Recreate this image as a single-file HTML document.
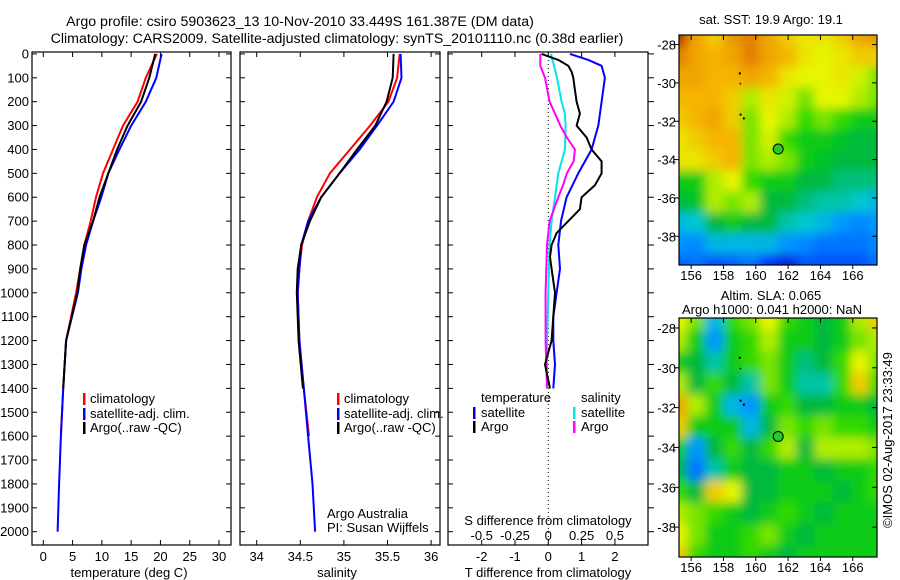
<!DOCTYPE html>
<html><head><meta charset="utf-8">
<style>
body{margin:0;background:#fff;}
svg{display:block;font-family:"Liberation Sans",sans-serif;}
</style></head>
<body>
<svg id="fig" width="900" height="580" viewBox="0 0 900 580" xmlns="http://www.w3.org/2000/svg">
<defs>
<filter id="blur" x="-5%" y="-5%" width="110%" height="110%"><feGaussianBlur stdDeviation="5"/></filter>
<clipPath id="clipA"><rect x="679" y="35" width="198" height="230"/></clipPath>
<clipPath id="clipB"><rect x="679" y="318" width="198" height="239"/></clipPath>
</defs>
<text x="300" y="26" font-size="14.2" text-anchor="middle">Argo profile: csiro 5903623_13 10-Nov-2010 33.449S 161.387E (DM data)</text>
<text x="337" y="43" font-size="14.2" text-anchor="middle">Climatology: CARS2009. Satellite-adjusted climatology: synTS_20101110.nc (0.38d earlier)</text>
<g id="plots"></g>
</svg>
<script>
// ---------- data ----------
const depthsUpper = [0,100,200,300,400,500,600,700,800,900,1000];
const depthsDeep = [1200,1400,1600,1800,2000];
const tempClim = [19.4,17.5,16.1,13.6,11.9,10.2,9.0,8.1,7.0,6.3,5.6,3.9,3.4,3.0];
const tempSat  = [20.2,19.3,17.5,15.0,13.0,11.1,9.9,8.5,7.3,6.5,5.9,3.9,3.4,3.0,2.7,2.45];
const tempArgo = [19.1,18.1,16.7,14.4,12.6,11.1,9.6,8.5,7.0,6.3,5.8,3.9,3.4];
const salClim = [35.64,35.61,35.51,35.30,35.07,34.84,34.69,34.59,34.52,34.49,34.47,34.49,34.54,34.60];
const salSat  = [35.65,35.66,35.57,35.38,35.18,34.95,34.74,34.59,34.51,34.49,34.47,34.49,34.54,34.59,34.64,34.67];
const salArgo = [35.57,35.56,35.49,35.36,35.15,34.95,34.74,34.61,34.51,34.47,34.46,34.48,34.53];
const diffDepthsT = [0,25,50,100,200,300,400,500,600,700,800,900,1000,1100,1200,1300,1400];
const dTSat = [0.65,1.2,1.6,1.7,1.6,1.5,1.3,0.9,0.55,0.38,0.3,0.35,0.25,0.15,0.15,0.2,0.15];
const diffDepthsTA = [0,25,50,75,100,150,200,250,300,350,400,450,500,550,600,650,700,750,800,850,900,1000,1100,1200,1300,1400];
const dTArgo = [-0.2,0.3,0.6,0.7,0.75,0.8,0.85,0.95,0.85,1.15,1.3,1.6,1.6,1.4,1.0,0.95,0.6,0.25,0.1,0.05,0.1,0.2,0.15,0.1,-0.1,0.05];
const diffDepthsS = [0,100,200,250,300,400,500,600,700,800,1000,1200,1400];
const dSSat = [0.02,0.065,0.1,0.125,0.13,0.125,0.075,0.05,0.025,0.01,0,-0.01,-0.01];
const diffDepthsSA = [0,50,100,200,250,300,350,400,450,500,550,600,700,800,1000,1200,1400];
const dSArgo = [-0.06,-0.06,-0.025,0.01,0.05,0.09,0.14,0.2,0.19,0.14,0.11,0.075,0.01,-0.01,-0.02,-0.02,-0.01];
const depthTicks = [0,100,200,300,400,500,600,700,800,900,1000,1100,1200,1300,1400,1500,1600,1700,1800,1900,2000];
const tempTicks = [0,5,10,15,20,25,30];
const salTicks = [34,34.5,35,35.5,36];
const dTTicks = [-2,-1,0,1,2];
const dSTicks = [-0.5,-0.25,0,0.25,0.5];
const lonTicks = [156,158,160,162,164,166];
const latTicks = [-28,-30,-32,-34,-36,-38];
const sstGrid = [
[0.95,0.8,0.75,0.82,0.85,0.8,0.75,0.72,0.72,0.75,0.8,0.82],
[0.85,0.8,0.78,0.8,0.85,0.8,0.78,0.72,0.7,0.72,0.75,0.75],
[0.8,0.8,0.78,0.78,0.8,0.78,0.72,0.7,0.7,0.72,0.68,0.6],
[0.78,0.78,0.78,0.75,0.65,0.72,0.68,0.6,0.7,0.7,0.65,0.6],
[0.75,0.78,0.8,0.75,0.6,0.7,0.65,0.55,0.6,0.55,0.5,0.5],
[0.72,0.75,0.78,0.78,0.6,0.68,0.55,0.5,0.5,0.48,0.45,0.45],
[0.72,0.72,0.75,0.78,0.6,0.65,0.6,0.5,0.48,0.45,0.45,0.45],
[0.5,0.5,0.65,0.7,0.55,0.5,0.5,0.45,0.45,0.42,0.42,0.42],
[0.45,0.48,0.65,0.6,0.65,0.45,0.45,0.42,0.4,0.4,0.38,0.35],
[0.35,0.38,0.45,0.5,0.45,0.45,0.4,0.38,0.35,0.3,0.28,0.3],
[0.3,0.28,0.35,0.35,0.35,0.35,0.3,0.28,0.25,0.25,0.25,0.28],
[0.22,0.25,0.2,0.22,0.25,0.15,0.1,0.2,0.2,0.2,0.2,0.25]];
const slaGrid = [
[0.7,0.6,0.35,0.55,0.6,0.7,0.55,0.5,0.45,0.5,0.65,0.75],
[0.65,0.5,0.3,0.5,0.55,0.65,0.5,0.5,0.45,0.5,0.6,0.65],
[0.5,0.45,0.4,0.5,0.55,0.6,0.5,0.42,0.45,0.55,0.7,0.6],
[0.65,0.45,0.55,0.45,0.4,0.6,0.5,0.4,0.4,0.55,0.75,0.55],
[0.8,0.65,0.5,0.35,0.3,0.5,0.55,0.45,0.45,0.5,0.5,0.45],
[0.75,0.5,0.5,0.5,0.35,0.45,0.6,0.55,0.6,0.55,0.55,0.5],
[0.5,0.3,0.45,0.55,0.45,0.55,0.65,0.45,0.65,0.65,0.65,0.6],
[0.45,0.25,0.4,0.5,0.45,0.45,0.5,0.5,0.45,0.5,0.5,0.55],
[0.55,0.45,0.75,0.7,0.45,0.45,0.5,0.5,0.5,0.45,0.5,0.55],
[0.65,0.6,0.55,0.5,0.45,0.5,0.55,0.5,0.45,0.5,0.5,0.5],
[0.7,0.6,0.5,0.5,0.55,0.6,0.5,0.45,0.5,0.5,0.5,0.5],
[0.75,0.55,0.5,0.5,0.55,0.5,0.45,0.5,0.5,0.5,0.5,0.5]];
const floatLon = 161.387, floatLat = -33.449;

// ---------- helpers ----------
const NS='http://www.w3.org/2000/svg';
const root=document.getElementById('plots');
function mk(tag,attrs,parent){const e=document.createElementNS(NS,tag);for(const k in attrs)e.setAttribute(k,attrs[k]);(parent||root).appendChild(e);return e;}
function txt(x,y,s,size,anchor,parent){const t=mk('text',{x:x,y:y,'font-size':size||13,'text-anchor':anchor||'middle'},parent);t.textContent=s;return t;}
const yD = d => 53.9 + 0.2389*d;
const xT = t => 43.3 + 5.857*t;
const xS = s => 256.7 + 87.2*(s-34);
const xdT = v => 548.3 + 33.3*v;
const xdS = v => 548.3 + 133.2*v;
const allDepths = depthsUpper.concat(depthsDeep);

function line(xs, ds, vals, sx, color, name, w){
  const pts = vals.map((v,i)=>sx(v).toFixed(1)+','+yD(ds[i]).toFixed(1)).join(' ');
  const p = mk('polyline',{points:pts,fill:'none',stroke:color,'stroke-width':w||2,'stroke-linejoin':'round'});
  
  
}
function frame(x0,x1,y0,y1,name){
  const r=mk('rect',{x:x0,y:y0,width:x1-x0,height:y1-y0,fill:'none',stroke:'#000','stroke-width':1.2});
  
  
}
function depthTickMarks(x0,x1,labels,outerRight){
  depthTicks.forEach(d=>{
    const y=yD(d);
    mk('line',{x1:x0,x2:x0+5,y1:y,y2:y,stroke:'#000'});
    if(outerRight) mk('line',{x1:x1,x2:x1+6,y1:y,y2:y,stroke:'#000'});
    else mk('line',{x1:x1-5,x2:x1,y1:y,y2:y,stroke:'#000'});
    if(labels){const t=txt(x0-3,y+4.5,String(d),13,'end');}
  });
}
function xTicks(ticks,sx,labelY){
  ticks.forEach(v=>{
    const x=sx(v);
    mk('line',{x1:x,x2:x,y1:545,y2:540,stroke:'#000'});
    mk('line',{x1:x,x2:x,y1:52,y2:57,stroke:'#000'});
    const t=txt(x,labelY,String(v),13);
    
    
  });
}
function legendBar(x,y,color){mk('rect',{x:x,y:y-10,width:2.5,height:12,fill:color});}

// ---------- panel 1: temperature ----------
frame(32,231,52,545,'temperature-panel');
depthTickMarks(32,231,true,false);
xTicks(tempTicks,xT,561);
line(0,allDepths.slice(0,tempClim.length),tempClim,xT,'#ff0000','temp-climatology-line');
line(0,allDepths.slice(0,tempSat.length),tempSat,xT,'#0000ff','temp-satellite-line');
line(0,allDepths.slice(0,tempArgo.length),tempArgo,xT,'#000000','temp-argo-line');
txt(129,577,'temperature (deg C)',13);
legendBar(83,403,'#ff0000');legendBar(83,418,'#0000ff');legendBar(83,432,'#000');
[['climatology',403],['satellite-adj. clim.',418],['Argo(..raw -QC)',432]].forEach(a=>{const t=txt(90,a[1],a[0],13,'start');});

// ---------- panel 2: salinity ----------
frame(240,440,52,545,'salinity-panel');
depthTickMarks(240,440,false,false);
xTicks(salTicks,xS,561);
line(0,allDepths.slice(0,salClim.length),salClim,xS,'#ff0000','sal-climatology-line');
line(0,allDepths.slice(0,salSat.length),salSat,xS,'#0000ff','sal-satellite-line');
line(0,allDepths.slice(0,salArgo.length),salArgo,xS,'#000000','sal-argo-line');
txt(337,577,'salinity',13);
legendBar(337,403,'#ff0000');legendBar(337,418,'#0000ff');legendBar(337,432,'#000');
[['climatology',403],['satellite-adj. clim.',418],['Argo(..raw -QC)',432]].forEach(a=>{const t=txt(344,a[1],a[0],13,'start');});
txt(327,518,'Argo Australia',13,'start');
txt(327,532,'PI: Susan Wijffels',13,'start');

// ---------- panel 3: differences ----------
frame(448,648,52,545,'difference-panel');
depthTickMarks(448,648,false,true);
xTicks(dTTicks,xdT,561);
mk('line',{x1:xdT(0),x2:xdT(0),y1:52,y2:545,stroke:'#000','stroke-dasharray':'1,3'});
line(0,diffDepthsS,dSSat,xdS,'#00e5ee','sal-diff-satellite-line');
line(0,diffDepthsSA,dSArgo,xdS,'#ff00ff','sal-diff-argo-line');
line(0,diffDepthsT,dTSat,xdT,'#0000ff','temp-diff-satellite-line');
line(0,diffDepthsTA,dTArgo,xdT,'#000000','temp-diff-argo-line');
dSTicks.forEach(v=>{const t=txt(xdS(v),540,String(v),13);});
txt(548,525,'S difference from climatology',13);
txt(548,577,'T difference from climatology',13);
txt(481,402,'temperature',13,'start');
txt(581,402,'salinity',13,'start');
legendBar(473,417,'#0000ff');legendBar(473,431,'#000');
legendBar(573,417,'#00e5ee');legendBar(573,431,'#ff00ff');
txt(481,417,'satellite',13,'start');txt(481,431,'Argo',13,'start');
txt(581,417,'satellite',13,'start');txt(581,431,'Argo',13,'start');

// ---------- maps ----------
const cmapStops=[[0,[0,0,140]],[0.15,[0,50,255]],[0.3,[0,150,255]],[0.38,[0,200,210]],[0.45,[0,185,60]],[0.52,[10,210,10]],[0.6,[120,228,0]],[0.7,[230,245,0]],[0.78,[245,180,0]],[0.86,[225,120,0]],[1,[150,10,0]]];
function cmap(v){for(let i=1;i<cmapStops.length;i++){if(v<=cmapStops[i][0]){const a=cmapStops[i-1],b=cmapStops[i];const f=(v-a[0])/(b[0]-a[0]);return 'rgb('+a[1].map((c,k)=>Math.round(c+(b[1][k]-c)*f)).join(',')+')';}}return 'rgb(150,10,0)';}
function mapPanel(grid,top,bottom,clip,name){
  const lonL=155.25,lonR=167.5,latT=-27.5,latB=-39.5;
  const mx=lon=>679+(lon-lonL)/(lonR-lonL)*198;
  const my=lat=>top+(latT-lat)/(latT-latB)*(bottom-top);
  const g=mk('g',{'clip-path':'url(#'+clip+')'});
  
  
  const gb=mk('g',{filter:'url(#blur)'},g);
  const nr=grid.length,nc=grid[0].length;
  grid.forEach((row,r)=>row.forEach((v,c)=>{
    const cell=mk('rect',{x:679-10+c*(218/nc),y:top-10+r*((bottom-top+20)/nr),width:218/nc+1,height:(bottom-top+20)/nr+1,fill:cmap(v)},gb);
    
    
  }));
  mk('rect',{x:mx(158.95),y:my(-29.45),width:2,height:2,fill:'#000'},g);
  mk('rect',{x:mx(159.0),y:my(-30.0),width:1.5,height:1.5,fill:'#000'},g);
  mk('rect',{x:mx(159.0),y:my(-31.6),width:2,height:2,fill:'#000'},g);
  mk('rect',{x:mx(159.2),y:my(-31.8),width:2,height:2,fill:'#000'},g);
  const c=mk('circle',{cx:mx(floatLon),cy:my(floatLat),r:5,fill:'#22cc22',stroke:'#000','stroke-width':1});
  
  
  frame(679,877,top,bottom,name+'-frame');
  latTicks.forEach(l=>{const y=my(l);mk('line',{x1:877,x2:872,y1:y,y2:y,stroke:'#000'});mk('line',{x1:679,x2:674,y1:y,y2:y,stroke:'#000'});const t=txt(676,y+5,String(l),13,'end');});
  lonTicks.forEach(l=>{const x=mx(l);mk('line',{x1:x,x2:x,y1:top,y2:top+5,stroke:'#000'});mk('line',{x1:x,x2:x,y1:bottom,y2:bottom+4,stroke:'#000'});const t=txt(x,bottom+15,String(l),13);});
}
mapPanel(sstGrid,35,265,'clipA','sst-map');
mapPanel(slaGrid,318,557,'clipB','sla-map');
txt(771,24,'sat. SST: 19.9 Argo: 19.1',13);
txt(771,300,'Altim. SLA: 0.065',13);
txt(772,314,'Argo h1000: 0.041 h2000: NaN',13);
const rt=txt(0,0,'\u00a9IMOS 02-Aug-2017 23:33:49',13);
rt.setAttribute('transform','translate(892,440) rotate(-90)');


</script>
</body></html>
